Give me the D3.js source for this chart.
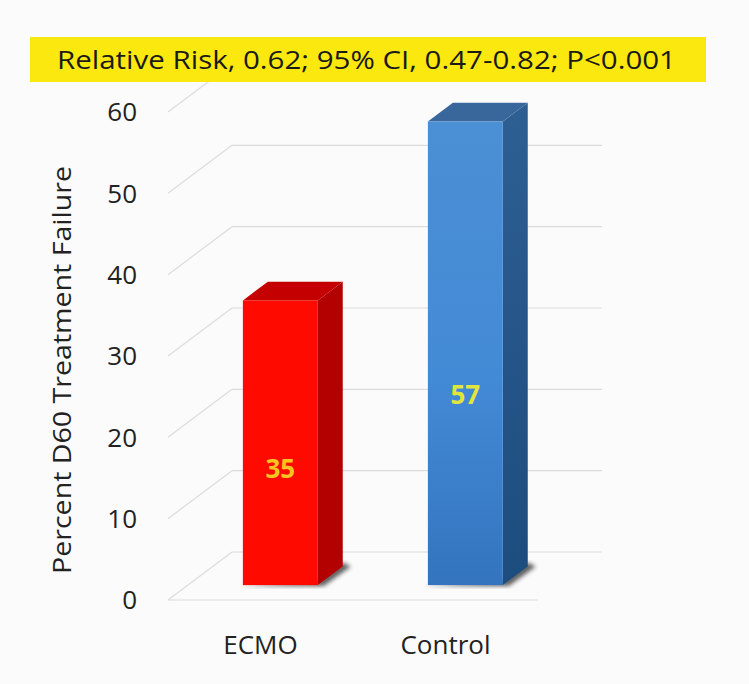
<!DOCTYPE html>
<html>
<head>
<meta charset="utf-8">
<script src="https://cdn.jsdelivr.net/npm/d3@7"></script>
<style>
  body { margin: 0; background: #fbfbfb; }
  svg { display: block; font-family: "Open Sans", sans-serif; }
</style>
</head>
<body>
<div class="chart"></div>
<script>
// Data
const categories = ["ECMO", "Control"];
const values = [35, 57];
const yTicks = [0, 10, 20, 30, 40, 50, 60];
const titleText = "Relative Risk, 0.62; 95% CI, 0.47-0.82; P<0.001";
const yTitle = "Percent D60 Treatment Failure";

const width = 749, height = 684;

const svg = d3.select(".chart")
  .append("svg")
  .attr("width", width)
  .attr("height", height);

// Front plane of the 3D box
const yScale = d3.scaleLinear().domain([0, 60]).range([600, 112]);
const xScale = d3.scaleBand()
  .domain(categories)
  .range([168, 538])
  .paddingInner(0.595)
  .paddingOuter(0.2975);

// Depth offset of the back wall
const depthX = 64, depthY = -48;
const proj = t => [depthX * t, depthY * t];

// Bars sit between these depths
const barFront = proj(0.31);
const barBack = proj(0.70);

const defs = svg.append("defs");
const blueGrad = defs.append("linearGradient")
  .attr("id", "blueFront").attr("x1", 0).attr("y1", 0).attr("x2", 0).attr("y2", 1);
blueGrad.append("stop").attr("offset", "0%").attr("stop-color", "#4b8fd4");
blueGrad.append("stop").attr("offset", "55%").attr("stop-color", "#438ad6");
blueGrad.append("stop").attr("offset", "100%").attr("stop-color", "#3474be");
const blueSide = defs.append("linearGradient")
  .attr("id", "blueSide").attr("x1", 0).attr("y1", 0).attr("x2", 0).attr("y2", 1);
blueSide.append("stop").attr("offset", "0%").attr("stop-color", "#2e5f93");
blueSide.append("stop").attr("offset", "100%").attr("stop-color", "#1d4c7e");
defs.append("filter").attr("id", "blur")
  .append("feGaussianBlur").attr("stdDeviation", 2);

const grid = svg.append("g")
  .attr("stroke", "#dcdcdc")
  .attr("stroke-width", 1.2)
  .attr("fill", "none");

// Left wall slanted lines
grid.selectAll(".slant")
  .data(yTicks)
  .enter()
  .append("line")
  .attr("x1", xScale.range()[0])
  .attr("y1", d => yScale(d))
  .attr("x2", xScale.range()[0] + depthX)
  .attr("y2", d => yScale(d) + depthY);

// Back wall lines
grid.selectAll(".back")
  .data(yTicks)
  .enter()
  .append("line")
  .attr("x1", xScale.range()[0] + depthX)
  .attr("y1", d => yScale(d) + depthY)
  .attr("x2", xScale.range()[1] + depthX)
  .attr("y2", d => yScale(d) + depthY);

// Floor front edge
grid.append("line")
  .attr("x1", xScale.range()[0])
  .attr("y1", yScale(0))
  .attr("x2", xScale.range()[1])
  .attr("y2", yScale(0));

// Tick labels
svg.append("g")
  .selectAll("text")
  .data(yTicks)
  .enter()
  .append("text")
  .attr("x", 137)
  .attr("y", d => yScale(d))
  .attr("dy", "0.36em")
  .attr("text-anchor", "end")
  .attr("font-size", 26)
  .attr("fill", "#222")
  .text(d => d);

// Axis title
svg.append("text")
  .attr("transform", `translate(71, ${(yScale(0) + yScale(60)) / 2 + 14}) rotate(-90)`)
  .attr("text-anchor", "middle")
  .attr("font-size", 26)
  .attr("fill", "#222")
  .attr("textLength", 408)
  .attr("lengthAdjust", "spacingAndGlyphs")
  .text(yTitle);

// Category labels
svg.append("g")
  .selectAll("text")
  .data(categories)
  .enter()
  .append("text")
  .attr("x", d => xScale(d) + xScale.bandwidth() / 2)
  .attr("y", 645)
  .attr("dy", "0.36em")
  .attr("text-anchor", "middle")
  .attr("font-size", 26)
  .attr("fill", "#222")
  .text(d => d);

const barColors = {
  ECMO: { front: "#ff0a00", side: "#b30000", top: "#c40000", label: "#f7c51e" },
  Control: { front: "url(#blueFront)", side: "url(#blueSide)", top: "#3a679b", label: "#e3e63a" }
};

const bars = svg.append("g")
  .selectAll("g")
  .data(categories.map((c, i) => ({ cat: c, value: values[i] })))
  .enter()
  .append("g");

const x0 = d => xScale(d.cat) + barFront[0];
const x1 = d => xScale(d.cat) + xScale.bandwidth() + barFront[0];
const yTop = d => yScale(d.value) + barFront[1];
const yBot = yScale(0) + barFront[1];
const bdx = barBack[0] - barFront[0], bdy = barBack[1] - barFront[1];

// Floor shadow
bars.append("path")
  .attr("filter", "url(#blur)")
  .attr("fill", "#2a2a2a")
  .attr("opacity", 0.75)
  .attr("d", d => `M${x0(d) - 4},${yBot + 1} L${x1(d) + 6},${yBot + 1} L${x1(d) + bdx + 8},${yBot + bdy} L${x1(d) + bdx},${yBot + bdy - 4} L${x1(d)},${yBot - 4} Z`);

// Side face
bars.append("path")
  .attr("fill", d => barColors[d.cat].side)
  .attr("d", d => `M${x1(d)},${yTop(d)} L${x1(d) + bdx},${yTop(d) + bdy} L${x1(d) + bdx},${yBot + bdy} L${x1(d)},${yBot} Z`);

// Top face
bars.append("path")
  .attr("fill", d => barColors[d.cat].top)
  .attr("d", d => `M${x0(d)},${yTop(d)} L${x0(d) + bdx},${yTop(d) + bdy} L${x1(d) + bdx},${yTop(d) + bdy} L${x1(d)},${yTop(d)} Z`);

// Front face
bars.append("rect")
  .attr("x", d => x0(d))
  .attr("y", d => yTop(d))
  .attr("width", xScale.bandwidth())
  .attr("height", d => yBot - yTop(d))
  .attr("fill", d => barColors[d.cat].front);

// Value labels
bars.append("text")
  .attr("x", d => x0(d) + xScale.bandwidth() / 2)
  .attr("y", d => yBot - (yBot - yTop(d)) * 0.41)
  .attr("dy", "0.36em")
  .attr("text-anchor", "middle")
  .attr("font-size", 26)
  .attr("font-weight", "bold")
  .attr("fill", d => barColors[d.cat].label)
  .text(d => d.value);

// Title box
svg.append("rect")
  .attr("x", 30)
  .attr("y", 37)
  .attr("width", 676)
  .attr("height", 45)
  .attr("fill", "#fbe80f");

svg.append("text")
  .attr("x", 57)
  .attr("y", 60)
  .attr("dy", "0.36em")
  .attr("font-size", 25)
  .attr("fill", "#1a1a1a")
  .attr("textLength", 619)
  .attr("lengthAdjust", "spacingAndGlyphs")
  .text(titleText);
</script>
</body>
</html>
